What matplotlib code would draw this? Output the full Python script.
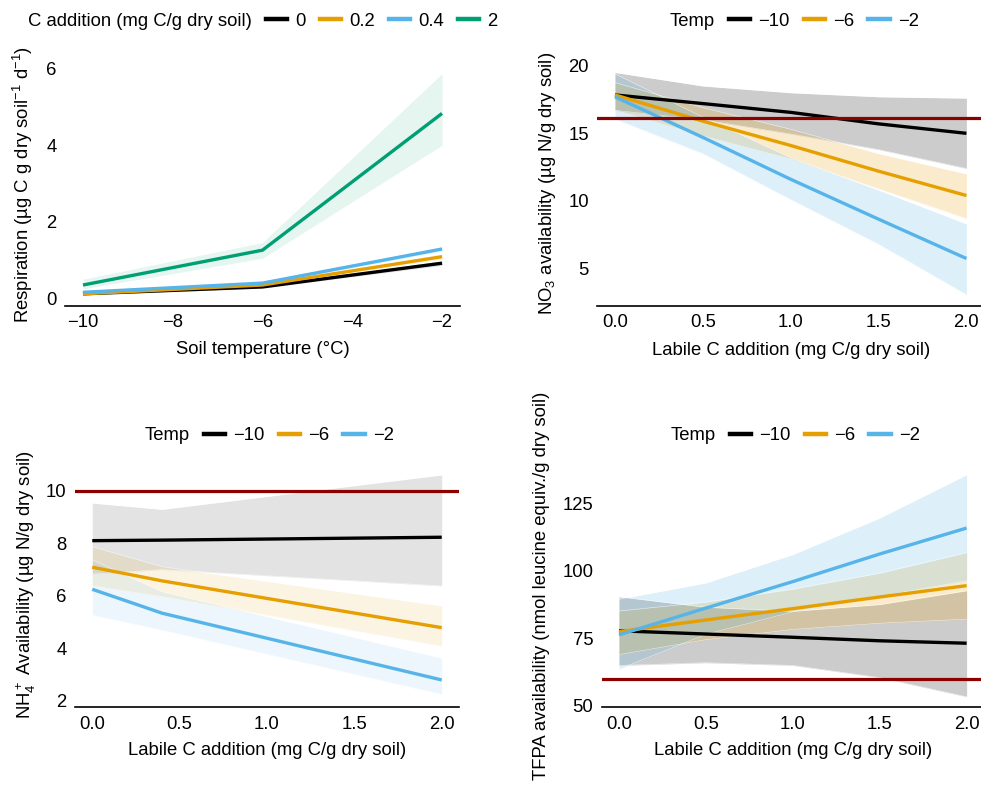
import matplotlib
matplotlib.use("Agg")
import matplotlib.pyplot as plt
from matplotlib.lines import Line2D

plt.rcParams['font.family'] = ['Liberation Sans', 'DejaVu Sans']
plt.rcParams['mathtext.fontset'] = 'custom'
plt.rcParams['mathtext.rm'] = 'Liberation Sans'
plt.rcParams['mathtext.it'] = 'Liberation Sans:italic'
plt.rcParams['mathtext.bf'] = 'Liberation Sans:bold'
FS = 13.3
plt.rcParams['font.size'] = FS

# ---------------- data ----------------
# Panel a: respiration vs soil temperature
temps = [-10, -6, -2]
c_levels = ["0", "0.2", "0.4", "2"]
resp_0 = [0.12, 0.30, 0.92]
resp_0_lo = [0.10, 0.27, 0.86]
resp_0_hi = [0.14, 0.33, 0.98]
resp_02 = [0.12, 0.35, 1.09]
resp_02_lo = [0.10, 0.32, 1.03]
resp_02_hi = [0.14, 0.38, 1.15]
resp_04 = [0.16, 0.40, 1.29]
resp_04_lo = [0.14, 0.37, 1.23]
resp_04_hi = [0.18, 0.43, 1.35]
resp_2 = [0.35, 1.26, 4.83]
resp_2_lo = [0.25, 1.05, 4.00]
resp_2_hi = [0.50, 1.46, 5.87]

# Labile C addition axis (panels b, d)
labile_c = [0.0, 0.5, 1.0, 1.5, 2.0]
temp_labels = ["\u221210", "\u22126", "\u22122"]

# Panel b: NO3
no3_m10 = [17.84, 17.2, 16.55, 15.7, 15.0]
no3_m10_lo = [16.7, 16.0, 14.95, 13.8, 12.4]
no3_m10_hi = [19.5, 18.5, 18.0, 17.7, 17.6]
no3_m6 = [17.84, 15.9, 14.1, 12.2, 10.4]
no3_m6_lo = [16.7, 14.8, 13.1, 10.9, 8.7]
no3_m6_hi = [18.75, 16.9, 15.3, 13.5, 12.0]
no3_m2 = [17.7, 14.7, 11.6, 8.65, 5.74]
no3_m2_lo = [16.06, 13.5, 10.1, 6.8, 3.07]
no3_m2_hi = [19.4, 16.2, 13.2, 10.8, 8.3]
no3_ref = 16.1

# Panel c: NH4 (C levels 0, 0.4, 2)
nh4_c = [0.0, 0.4, 2.0]
nh4_m10 = [8.10, 8.12, 8.23]
nh4_m10_lo = [6.83, 7.00, 6.38]
nh4_m10_hi = [9.53, 9.29, 10.60]
nh4_m6 = [7.09, 6.57, 4.79]
nh4_m6_lo = [6.38, 5.97, 4.09]
nh4_m6_hi = [7.87, 7.11, 5.62]
nh4_m2 = [6.25, 5.34, 2.80]
nh4_m2_lo = [5.27, 4.70, 2.26]
nh4_m2_hi = [7.37, 6.16, 3.63]
nh4_ref = 10.0

# Panel d: TFPA
tfpa_m10 = [77.8, 76.6, 75.4, 74.1, 73.2]
tfpa_m10_lo = [65.0, 66.0, 65.0, 60.5, 53.4]
tfpa_m10_hi = [90.4, 86.5, 85.0, 87.5, 92.6]
tfpa_m6 = [77.5, 81.8, 86.0, 90.3, 94.5]
tfpa_m6_lo = [69.0, 74.5, 78.3, 80.6, 82.1]
tfpa_m6_hi = [85.1, 88.4, 93.2, 99.1, 106.7]
tfpa_m2 = [76.3, 86.2, 96.0, 106.2, 115.8]
tfpa_m2_lo = [63.6, 76.5, 84.8, 90.5, 96.3]
tfpa_m2_hi = [89.5, 95.5, 106.0, 119.5, 135.5]
tfpa_ref = 60.0

# ---------------- style ----------------
C_BLACK = "#000000"
C_ORANGE = "#E69F00"
C_BLUE = "#56B4E9"
C_GREEN = "#009E73"
C_RED = "#8B0000"
LW = 2.4

fig = plt.figure(figsize=(9.81, 7.87), dpi=100)


def style_axes(ax):
    for s in ["left", "right", "top"]:
        ax.spines[s].set_visible(False)
    ax.spines["bottom"].set_linewidth(1.2)
    ax.tick_params(axis="both", length=0, labelsize=FS)
    ax.tick_params(axis="y", pad=6)
    ax.tick_params(axis="x", pad=6)


def draw_series(ax, x, m, lo, hi, color, alpha):
    ax.fill_between(x, lo, hi, color=color, alpha=alpha, linewidth=0, zorder=1)
    ax.plot(x, lo, color="white", lw=0.4, alpha=0.7, zorder=1.5)
    ax.plot(x, hi, color="white", lw=0.4, alpha=0.7, zorder=1.5)


def legend(title, labels, colors, x_px, y_px):
    handles = [Line2D([], [], color="none")]
    handles += [Line2D([], [], color=c, lw=3.2) for c in colors]
    hl, tp = 1.15, 0.45
    fs_px = FS * 100 / 72
    x0 = x_px - (hl + tp) * fs_px
    fig.legend(handles, [title] + labels, ncol=len(handles), loc="center left",
               bbox_to_anchor=(x0 / 981, 1 - y_px / 787), frameon=False,
               handlelength=hl, handletextpad=tp, columnspacing=0.75,
               borderpad=0, borderaxespad=0, fontsize=FS)


# ---- Panel a ----
ax1 = fig.add_axes([65 / 981, 1 - 305.7 / 787, 395 / 981, 243.2 / 787])
style_axes(ax1)
resp_sets = [(resp_0, resp_0_lo, resp_0_hi, C_BLACK),
             (resp_02, resp_02_lo, resp_02_hi, C_ORANGE),
             (resp_04, resp_04_lo, resp_04_hi, C_BLUE),
             (resp_2, resp_2_lo, resp_2_hi, C_GREEN)]
for m, lo, hi, c in resp_sets:
    ax1.fill_between(temps, lo, hi, color=c, alpha=0.1, linewidth=0, zorder=1)
for m, lo, hi, c in resp_sets:
    ax1.plot(temps, m, color=c, lw=LW, zorder=3, solid_capstyle="butt")
ax1.set_xlim(-10.4, -1.6)
ax1.set_ylim(-0.19, 6.16)
ax1.set_xticks([-10, -8, -6, -4, -2])
ax1.set_yticks([0, 2, 4, 6])
ax1.set_xlabel("Soil temperature (\u00b0C)")
ax1.set_ylabel("Respiration (\u00b5g C g dry soil$^{-1}$ d$^{-1}$)")
legend("C addition (mg C/g dry soil)", c_levels,
       [C_BLACK, C_ORANGE, C_BLUE, C_GREEN], 28, 21)

# ---- Panel b ----
ax2 = fig.add_axes([597.4 / 981, 1 - 305.7 / 787, 386.6 / 981, 244.3 / 787])
style_axes(ax2)
no3_sets = [(no3_m10, no3_m10_lo, no3_m10_hi, C_BLACK),
            (no3_m6, no3_m6_lo, no3_m6_hi, C_ORANGE),
            (no3_m2, no3_m2_lo, no3_m2_hi, C_BLUE)]
for m, lo, hi, c in no3_sets:
    draw_series(ax2, labile_c, m, lo, hi, c, 0.2)
for m, lo, hi, c in no3_sets:
    ax2.plot(labile_c, m, color=c, lw=LW, zorder=3, solid_capstyle="butt")
ax2.axhline(no3_ref, color=C_RED, lw=2.3, zorder=4)
ax2.set_xlim(-0.1, 2.1)
ax2.set_ylim(2.25, 20.32)
ax2.set_xticks([0.0, 0.5, 1.0, 1.5, 2.0])
ax2.set_xticklabels(["0.0", "0.5", "1.0", "1.5", "2.0"])
ax2.set_yticks([5, 10, 15, 20])
ax2.set_xlabel("Labile C addition (mg C/g dry soil)")
ax2.set_ylabel("NO$_3$ availability (\u00b5g N/g dry soil)")
legend("Temp", temp_labels, [C_BLACK, C_ORANGE, C_BLUE], 670, 21)

# ---- Panel c ----
ax3 = fig.add_axes([74.8 / 981, 1 - 707.3 / 787, 384.4 / 981, 244.7 / 787])
style_axes(ax3)
nh4_sets = [(nh4_m10, nh4_m10_lo, nh4_m10_hi, C_BLACK),
            (nh4_m6, nh4_m6_lo, nh4_m6_hi, C_ORANGE),
            (nh4_m2, nh4_m2_lo, nh4_m2_hi, C_BLUE)]
for m, lo, hi, c in nh4_sets:
    draw_series(ax3, nh4_c, m, lo, hi, c, 0.11)
for m, lo, hi, c in nh4_sets:
    ax3.plot(nh4_c, m, color=c, lw=LW, zorder=3, solid_capstyle="butt")
ax3.axhline(nh4_ref, color=C_RED, lw=2.3, zorder=4)
ax3.set_xlim(-0.1, 2.1)
ax3.set_ylim(1.76, 11.07)
ax3.set_xticks([0.0, 0.5, 1.0, 1.5, 2.0])
ax3.set_xticklabels(["0.0", "0.5", "1.0", "1.5", "2.0"])
ax3.set_yticks([2, 4, 6, 8, 10])
ax3.set_xlabel("Labile C addition (mg C/g dry soil)")
ax3.set_ylabel("NH$_4^+$ Availability (\u00b5g N/g dry soil)")
legend("Temp", temp_labels, [C_BLACK, C_ORANGE, C_BLUE], 145, 435.7)

# ---- Panel d ----
ax4 = fig.add_axes([601.6 / 981, 1 - 707.3 / 787, 382.4 / 981, 243.6 / 787])
style_axes(ax4)
tfpa_sets = [(tfpa_m10, tfpa_m10_lo, tfpa_m10_hi, C_BLACK),
             (tfpa_m6, tfpa_m6_lo, tfpa_m6_hi, C_ORANGE),
             (tfpa_m2, tfpa_m2_lo, tfpa_m2_hi, C_BLUE)]
for m, lo, hi, c in tfpa_sets:
    draw_series(ax4, labile_c, m, lo, hi, c, 0.2)
for m, lo, hi, c in tfpa_sets:
    ax4.plot(labile_c, m, color=c, lw=LW, zorder=3, solid_capstyle="butt")
ax4.axhline(tfpa_ref, color=C_RED, lw=2.3, zorder=4)
ax4.set_xlim(-0.1, 2.1)
ax4.set_ylim(49.5, 139.6)
ax4.set_xticks([0.0, 0.5, 1.0, 1.5, 2.0])
ax4.set_xticklabels(["0.0", "0.5", "1.0", "1.5", "2.0"])
ax4.set_yticks([50, 75, 100, 125])
ax4.set_xlabel("Labile C addition (mg C/g dry soil)")
ax4.set_ylabel("TFPA availability (nmol leucine equiv./g dry soil)")
legend("Temp", temp_labels, [C_BLACK, C_ORANGE, C_BLUE], 671, 435.7)

# label positions
for ax, xl, yl in [(ax1, -0.182, -0.106), (ax2, -0.182, -0.130),
                   (ax3, -0.177, -0.127), (ax4, -0.178, -0.156)]:
    ax.xaxis.set_label_coords(0.5, xl)
    ax.xaxis.label.set_va("center")
    ax.yaxis.set_label_coords(yl, 0.5)
    ax.yaxis.label.set_va("center")
    ax.xaxis.label.set_size(FS)
    ax.yaxis.label.set_size(FS)

fig.savefig("out.png", dpi=100)
